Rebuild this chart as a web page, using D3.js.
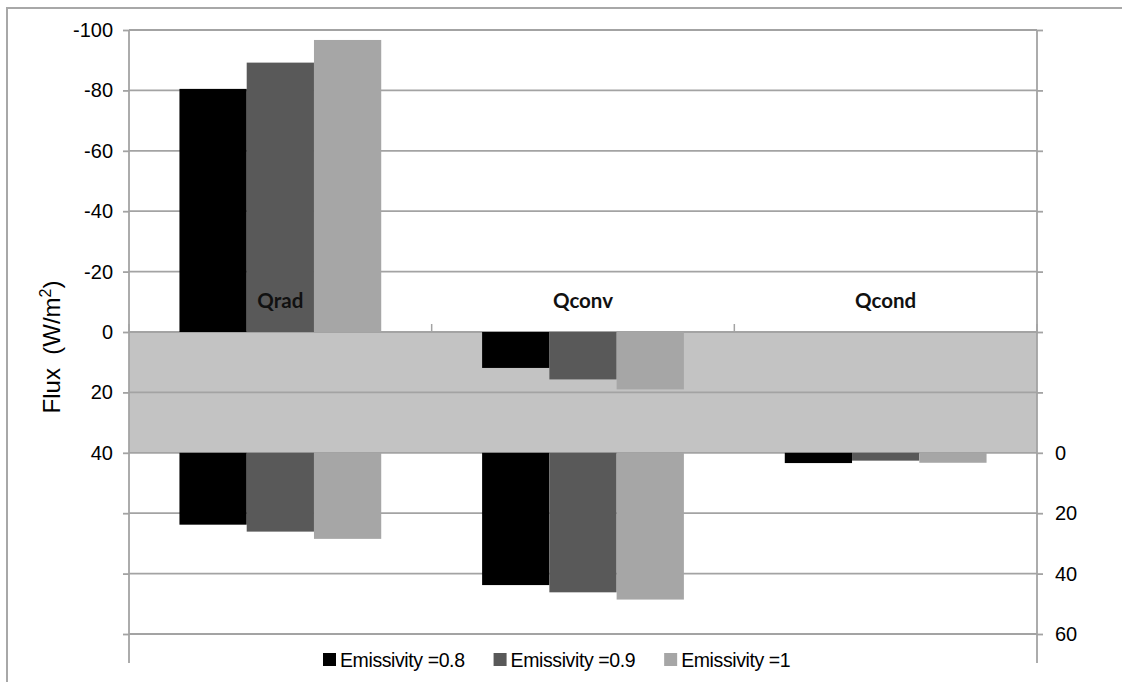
<!DOCTYPE html>
<html>
<head>
<meta charset="utf-8">
<script src="https://cdn.jsdelivr.net/npm/d3@7"></script>
<style>
  html, body { margin: 0; padding: 0; background: #fff; }
  svg { display: block; }
  text { font-family: "Liberation Sans", Arial, sans-serif; fill: #000; }
</style>
</head>
<body>
<svg id="chart" width="1122" height="682"></svg>
<script>
// Heat flux components for three emissivity values
const categories = ["Qrad", "Qconv", "Qcond"];
const seriesNames = ["Emissivity =0.8", "Emissivity =0.9", "Emissivity =1"];
const seriesColors = ["#000000", "#595959", "#a6a6a6"];

// Primary (left) axis values, per category
const e08Primary = [-80.5, 11.9, 0];
const e09Primary = [-89.2, 15.7, 0];
const e10Primary = [-96.7, 19.0, 0];

// Secondary (right) axis values, per category
const e08Secondary = [23.8, 43.8, 3.4];
const e09Secondary = [26.1, 46.2, 2.6];
const e10Secondary = [28.5, 48.6, 3.3];

const leftTickValues = [-100, -80, -60, -40, -20, 0, 20, 40, 60, 80, 100];
const leftTickLabels = [-100, -80, -60, -40, -20, 0, 20, 40];
const rightTickValues = [-140, -120, -100, -80, -60, -40, -20, 0, 20, 40, 60];
const rightTickLabels = [0, 20, 40, 60];
const bandRange = [0, 40]; // shaded strip on the primary axis

const primary = [e08Primary, e09Primary, e10Primary];
const secondary = [e08Secondary, e09Secondary, e10Secondary];

const svg = d3.select("#chart");
const plot = { left: 129, right: 1037, top: 30, bottom: 634, axisEnd: 663 };
const gridColor = "#a3a3a3";

// outer frame
svg.append("rect")
  .attr("x", 7).attr("y", 8).attr("width", 1140).attr("height", 700)
  .attr("fill", "none").attr("stroke", "#a8a8a8").attr("stroke-width", 2);

const yLeft = d3.scaleLinear().domain([-100, 100]).range([plot.top, plot.bottom]);
const yRight = d3.scaleLinear().domain([-140, 60]).range([plot.top, plot.bottom]);
const x = d3.scaleBand().domain(categories).range([plot.left, plot.right]);
const xs = d3.scaleBand().domain(seriesNames)
  .range([x.bandwidth() / 6, x.bandwidth() * 5 / 6]);

// shaded strip
svg.append("rect")
  .attr("x", plot.left)
  .attr("y", yLeft(bandRange[0]))
  .attr("width", plot.right - plot.left)
  .attr("height", yLeft(bandRange[1]) - yLeft(bandRange[0]))
  .attr("fill", "#c3c3c3");

// gridlines
svg.append("g").selectAll("line").data(leftTickValues).join("line")
  .attr("x1", plot.left).attr("x2", plot.right)
  .attr("y1", d => yLeft(d)).attr("y2", d => yLeft(d))
  .attr("stroke", gridColor).attr("stroke-width", 1.8);

// primary bars
const gPrim = svg.append("g");
seriesNames.forEach((s, i) => {
  gPrim.append("g").selectAll("rect").data(primary[i].map((v, j) => ({ v, c: categories[j] })))
    .join("rect")
    .filter(d => d.v !== 0)
    .attr("x", d => x(d.c) + xs(s))
    .attr("width", xs.bandwidth())
    .attr("y", d => Math.min(yLeft(0), yLeft(d.v)))
    .attr("height", d => Math.abs(yLeft(d.v) - yLeft(0)))
    .attr("fill", seriesColors[i]);
});

// secondary bars
const gSec = svg.append("g");
seriesNames.forEach((s, i) => {
  gSec.append("g").selectAll("rect").data(secondary[i].map((v, j) => ({ v, c: categories[j] })))
    .join("rect")
    .attr("x", d => x(d.c) + xs(s))
    .attr("width", xs.bandwidth())
    .attr("y", d => Math.min(yRight(0), yRight(d.v)))
    .attr("height", d => Math.abs(yRight(d.v) - yRight(0)))
    .attr("fill", seriesColors[i]);
});

// category axis on the zero line, ticks pointing up
const catTicks = categories.map(c => x(c)).concat([plot.right]);
const gCat = svg.append("g");
gCat.selectAll("line").data(catTicks).join("line")
  .attr("x1", d => d).attr("x2", d => d)
  .attr("y1", yLeft(0) - 8).attr("y2", yLeft(0))
  .attr("stroke", gridColor).attr("stroke-width", 1.5);
gCat.selectAll("text").data(categories).join("text")
  .attr("x", d => x(d) + x.bandwidth() / 2)
  .attr("y", yLeft(0) - 24)
  .attr("text-anchor", "middle")
  .style("font-family", "Lato, 'Open Sans', sans-serif")
  .style("font-weight", "bold")
  .style("font-size", "20.5px")
  .style("fill", "#111")
  .text(d => d);

// left axis
const leftAxis = d3.axisLeft(yLeft).tickValues(leftTickValues).tickSize(6).tickPadding(10)
  .tickFormat(d => leftTickLabels.includes(d) ? String(d) : "");
const gL = svg.append("g").attr("transform", `translate(${plot.left},0)`).call(leftAxis);
gL.select(".domain").remove();
gL.selectAll(".tick line").attr("stroke", gridColor).attr("stroke-width", 1.8);
gL.selectAll(".tick text").style("font-family", "'Liberation Sans', Arial, sans-serif").style("font-size", "20px").attr("fill", "#000");
svg.append("line")
  .attr("x1", plot.left).attr("x2", plot.left)
  .attr("y1", plot.top).attr("y2", plot.axisEnd)
  .attr("stroke", gridColor).attr("stroke-width", 1.8);

// right axis
const rightAxis = d3.axisRight(yRight).tickValues(rightTickValues).tickSize(6).tickPadding(12)
  .tickFormat(d => rightTickLabels.includes(d) ? String(d) : "");
const gR = svg.append("g").attr("transform", `translate(${plot.right},0)`).call(rightAxis);
gR.select(".domain").remove();
gR.selectAll(".tick line").attr("stroke", gridColor).attr("stroke-width", 1.8);
gR.selectAll(".tick text").style("font-family", "'Liberation Sans', Arial, sans-serif").style("font-size", "20px").attr("fill", "#000");
svg.append("line")
  .attr("x1", plot.right).attr("x2", plot.right)
  .attr("y1", plot.top).attr("y2", plot.axisEnd)
  .attr("stroke", gridColor).attr("stroke-width", 1.8);

// y-axis title
const title = svg.append("text")
  .attr("transform", `translate(60,347) rotate(-90)`)
  .attr("text-anchor", "middle")
  .style("white-space", "pre")
  .style("font-size", "24px");
title.append("tspan").text("Flux  (W/m");
title.append("tspan").attr("dy", -9).style("font-size", "16px").text("2");
title.append("tspan").attr("dy", 9).text(")");

// legend
const legend = svg.append("g").attr("transform", "translate(323,0)");
let lx = 0;
seriesNames.forEach((s, i) => {
  legend.append("rect")
    .attr("x", lx).attr("y", 653).attr("width", 13).attr("height", 13)
    .attr("fill", seriesColors[i]);
  const t = legend.append("text")
    .attr("x", lx + 17).attr("y", 667)
    .style("font-size", "19.5px")
    .style("letter-spacing", "-0.4px")
    .text(s);
  lx += 17 + t.node().getComputedTextLength() + 29;
});
</script>
</body>
</html>
